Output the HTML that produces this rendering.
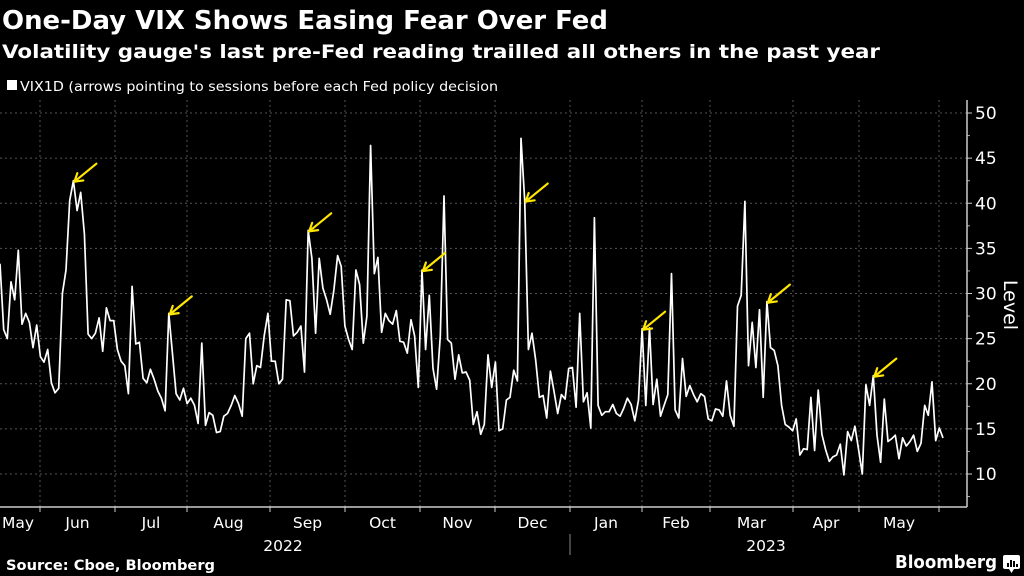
<!DOCTYPE html>
<html><head><meta charset="utf-8">
<style>
html,body{margin:0;padding:0;background:#000;}
svg{display:block;}
text{font-family:"DejaVu Sans","Liberation Sans",sans-serif;fill:#fff;}
</style></head>
<body>
<svg id="chart" width="1024" height="576" viewBox="0 0 1024 576" xmlns="http://www.w3.org/2000/svg">
<rect width="1024" height="576" fill="#000"/>
<text x="2" y="29" font-size="26" font-weight="bold" textLength="606" lengthAdjust="spacingAndGlyphs">One-Day VIX Shows Easing Fear Over Fed</text>
<text x="2" y="58" font-size="19" font-weight="bold" textLength="878" lengthAdjust="spacingAndGlyphs">Volatility gauge's last pre-Fed reading trailled all others in the past year</text>
<rect x="7" y="80" width="10" height="10" fill="#fff"/>
<text x="20" y="91" font-size="13.5" fill="#ddd" textLength="478" lengthAdjust="spacingAndGlyphs">VIX1D (arrows pointing to sessions before each Fed policy decision</text>
<g id="grid"></g>
<g id="axes"></g>
<g id="series"></g>
<g id="arrows"></g>
<text x="6" y="570" font-size="14" font-weight="bold" textLength="209" lengthAdjust="spacingAndGlyphs">Source: Cboe, Bloomberg</text>
<text x="895" y="568" font-size="17.5" font-weight="bold" textLength="102" lengthAdjust="spacingAndGlyphs">Bloomberg</text>
<g>
<rect x="1003" y="555" width="17" height="14" rx="2" fill="#fff"/>
<polygon points="1009,569 1014,569 1011.5,573" fill="#fff"/>
<rect x="1007" y="563" width="2" height="4" fill="#000"/><rect x="1010" y="560" width="2" height="7" fill="#000"/><rect x="1013" y="561" width="2" height="6" fill="#000"/><rect x="1016" y="564" width="2" height="3" fill="#000"/>
</g>
</svg>
<script>
const yTicks = [10,15,20,25,30,35,40,45,50];
const months = ["May","Jun","Jul","Aug","Sep","Oct","Nov","Dec","Jan","Feb","Mar","Apr","May"];
const monthBoundaries = [0,40,115,187,270,345,420,495,570,642,710,793,859,939];
const years = ["2022","2023"];
const vix = [
33.3,26,25,31.3,29.3,34.8,26.6,27.8,26.8,24,26.5,23,22.4,23.8,20.1,19,19.5,30,32.6,40.3,42.5,39.2,41.2,36.6,25.5,25,25.6,27.3,23.6,28.4,27,27,23.8,22.5,22,18.9,30.8,24.4,24.6,20.6,20.1,21.6,20.5,19.2,18.4,17,27.8,23.3,18.9,18.2,19.5,17.8,18.4,17.6,15.6,24.5,15.4,16.8,16.5,14.6,14.7,16.4,16.7,17.6,18.7,17.8,16.4,25,25.6,20,22,21.8,25.3,27.8,22.5,22.5,20,20.5,29.3,29.2,25.3,25.7,26.4,21.3,37,33.9,25.6,33.9,30.6,29.3,27.7,30.4,
34.2,33,26.4,24.9,23.8,32.6,31,24.5,27.5,46.4,32.2,34,25.7,27.8,27,26.6,28.1,24.7,24.6,23.4,27.1,25.3,19.6,32.6,23.8,29.8,21.7,19.4,25.3,40.8,24.9,24.5,20.5,23.2,21.2,21.3,20.4,15.5,16.9,14.4,15.5,23.2,19.6,22.4,14.8,15,18.2,18.5,21.5,20.3,47.2,40.3,23.8,25.6,22.6,18.5,18.7,16.2,21.4,19.1,16.7,18.8,18.3,21.7,21.8,17.4,27.8,18,19,15.1,38.4,17.6,16.5,16.9,16.9,17.7,16.7,16.4,17.3,18.4,17.7,15.9,18.2,26.1,17.6,26.2,17.7,20.5,16.4,17.6,18.8,
32.2,17.1,16.2,22.8,18.6,19.8,18.8,18,18.9,18.6,16.1,15.9,17.2,17.1,16.4,20.3,16.5,15.3,28.6,29.8,40.2,22,26.8,21.8,28.2,18.5,29.1,24,23.7,22,17.6,15.5,15.2,14.8,16.1,12.1,12.8,12.7,18.5,12.6,19.3,14.4,12.7,11.4,11.9,12.1,13.3,9.9,14.7,13.7,15.3,12.7,10,19.9,17.6,20.9,14.3,11.3,18.3,13.6,13.9,14.3,11.7,14,13.1,13.6,14.3,12.5,13.4,17.6,16.5,20.2,13.7,15.1,14
];
const fedSessions = [20,46,84,115,143,175,209,238];

const NS="http://www.w3.org/2000/svg";
const X0=0, X1=943, PLOT_R=967, AXIS_Y=507, Y_TOP=100;
function yScale(v){return 474-(v-10)*9.025;}
function xScale(i){return X0+i*(X1-X0)/(vix.length-1);}
function mk(tag,attrs,parent){const e=document.createElementNS(NS,tag);for(const k in attrs)e.setAttribute(k,attrs[k]);parent.appendChild(e);return e;}
const grid=document.getElementById('grid'), axes=document.getElementById('axes'), series=document.getElementById('series'), arrows=document.getElementById('arrows');

yTicks.forEach(t=>{
  const y=yScale(t);
  const l=mk('line',{x1:0,x2:PLOT_R,y1:y,y2:y,stroke:'#555','stroke-dasharray':'2,3','stroke-width':1},grid);
  
  
  const tk=mk('line',{x1:PLOT_R,x2:PLOT_R+5,y1:y,y2:y,stroke:'#ccc'},axes);
  
  
  const tx=mk('text',{x:PLOT_R+8,y:y+6,'font-size':17,fill:'#ddd'},axes);
  tx.textContent=t;
  
  
  const my=yScale(t+2.5);
  if(t<50){const m=mk('line',{x1:PLOT_R,x2:PLOT_R+3,y1:my,y2:my,stroke:'#aaa'},axes);
  
  }
});
const mlast=mk('line',{x1:PLOT_R,x2:PLOT_R+3,y1:yScale(7.5),y2:yScale(7.5),stroke:'#aaa'},axes);


monthBoundaries.forEach((bx,i)=>{
  if(i>0){const g=mk('line',{x1:bx,x2:bx,y1:Y_TOP,y2:AXIS_Y,stroke:'#555','stroke-dasharray':'2,3'},grid);
  
  
  const tk=mk('line',{x1:bx,x2:bx,y1:AXIS_Y,y2:AXIS_Y+5,stroke:'#ccc'},axes);
  
  }
});
months.forEach((m,i)=>{
  const cx=(monthBoundaries[i]+monthBoundaries[i+1])/2;
  const t=mk('text',{x:i===0?2:cx,y:528,'font-size':15.5,fill:'#ddd','text-anchor':i===0?'start':'middle'},axes);
  t.textContent=m;
  
  
});
const yx=[283,766];
years.forEach((yv,i)=>{
  const t=mk('text',{x:yx[i],y:551,'font-size':15.5,fill:'#ddd','text-anchor':'middle'},axes);
  t.textContent=yv;
  
  
});
const sep=mk('line',{x1:570,x2:570,y1:534,y2:555,stroke:'#888'},axes);


const xa=mk('line',{x1:0,x2:PLOT_R,y1:AXIS_Y,y2:AXIS_Y,stroke:'#ccc','stroke-width':1.5},axes);


const ya=mk('line',{x1:PLOT_R,x2:PLOT_R,y1:Y_TOP,y2:AXIS_Y,stroke:'#ccc','stroke-width':1.5},axes);


const yt=mk('text',{x:0,y:0,'font-size':19,fill:'#ddd','text-anchor':'middle',transform:'translate(1004,305) rotate(90)'},axes);
yt.textContent='Level';



const d=vix.map((v,i)=>(i?'L':'M')+xScale(i).toFixed(1)+','+yScale(v).toFixed(1)).join(' ');
const line=mk('path',{d:d,fill:'none',stroke:'#fff','stroke-width':1.7,'stroke-linejoin':'round'},series);



fedSessions.forEach(idx=>{
  const tx=xScale(idx)+1, ty=yScale(vix[idx])+1;
  const dx=22, dy=-18, L=Math.hypot(dx,dy), ux=dx/L, uy=dy/L;
  const g=mk('g',{stroke:'#ffe600','stroke-width':2.2,'stroke-linecap':'round',fill:'none'},arrows);
  
  
  mk('line',{x1:tx,y1:ty,x2:tx+dx,y2:ty+dy},g);
  const h=9, a=0.55;
  const c=Math.cos(a), s=Math.sin(a);
  mk('line',{x1:tx,y1:ty,x2:tx+h*(ux*c-uy*s),y2:ty+h*(ux*s+uy*c)},g);
  mk('line',{x1:tx,y1:ty,x2:tx+h*(ux*c+uy*s),y2:ty+h*(-ux*s+uy*c)},g);
});
</script>
</body></html>
